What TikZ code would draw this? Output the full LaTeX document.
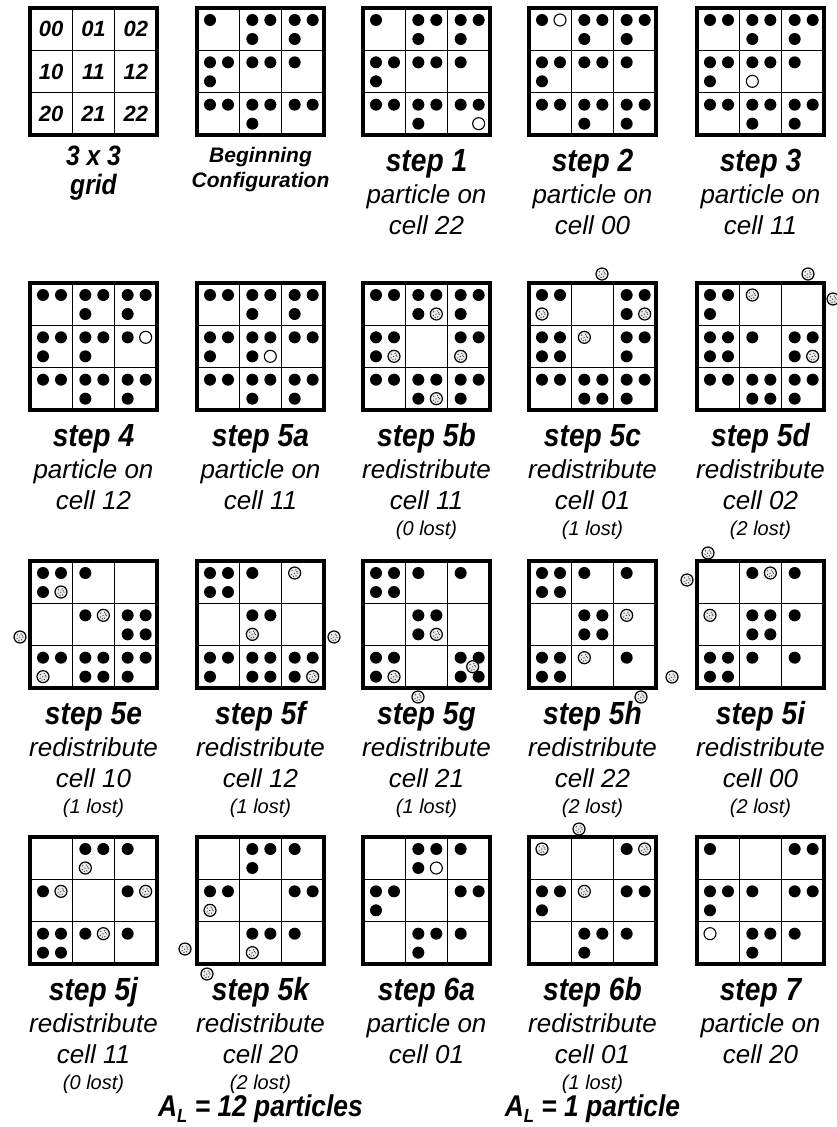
\documentclass[tikz,border=0pt]{standalone}
\usepackage{fontspec}
\setmainfont{Liberation Sans}
\newfontfamily\narrowsans{Liberation Sans}[FakeStretch=0.88]
\usetikzlibrary{calc}
\pgfdeclarelayer{bg}
\pgfsetlayers{bg,main}

% cell size and particle radius
\newcommand\cw{42.333}
\newcommand\pr{6pt}
% particle slots inside a cell: a=top left, b=top right, c=bottom left, d=bottom right, m=middle
\def\pqxa{13}\def\pqya{12}
\def\pqxb{31}\def\pqyb{12}
\def\pqxc{13}\def\pqyc{31}
\def\pqxd{31}\def\pqyd{31}
\def\pqxm{25}\def\pqym{21}

\tikzset{
  gridbox/.style={minimum width=127pt, minimum height=127pt, inner sep=0pt, outer sep=0pt, anchor=north west},
  frame/.style={line width=3.2pt},
  rule/.style={line width=1.3pt},
  hot/.style={fill=gray!40},
  blk/.style={fill=black},
  wht/.style={fill=white, draw=black, line width=1.1pt},
  spk/.style={fill=gray!15, draw=black, line width=1.2pt,
    path picture={\foreach \a/\b in {-2.6/-2.2,1.2/-3.0,3.0/0.2,-0.3/0.2,-2.9/1.6,1.4/2.8,-1.0/3.4,2.2/-1.2}
      {\fill[black!75] ($(path picture bounding box.center)+(\a,\b)$) circle[radius=0.7pt];}}},
  numlbl/.style={font=\fontsize{22}{22}\selectfont\bfseries\itshape, inner sep=0pt},
  steplbl/.style={font=\narrowsans\fontsize{32}{34}\selectfont\bfseries\itshape, anchor=base, inner sep=0pt},
  desclbl/.style={font=\fontsize{26}{28}\selectfont\itshape, anchor=base, inner sep=0pt},
  lostlbl/.style={font=\fontsize{20}{22}\selectfont\itshape, anchor=base, inner sep=0pt},
  headlbl/.style={font=\narrowsans\fontsize{28}{30}\selectfont\bfseries\itshape, anchor=base, inner sep=0pt},
  beglbl/.style={font=\fontsize{21}{23}\selectfont\bfseries\itshape, anchor=base, inner sep=0pt},
  sumlbl/.style={font=\narrowsans\fontsize{30}{32}\selectfont\bfseries\itshape, anchor=base, inner sep=0pt},
}

% one particle in slot #4 of cell (#2,#3) of grid #1, drawn with style #5
\newcommand\pp[5]{\path[#5] ($(#1.north west)+({#3*\cw+\csname pqx#4\endcsname},{#2*\cw+\csname pqy#4\endcsname})$) circle[radius=\pr];}
\newcommand\Bk[4]{\foreach \s in {#4}{\pp{#1}{#2}{#3}{\s}{blk}}}
\newcommand\Wt[4]{\pp{#1}{#2}{#3}{#4}{wht}}
\newcommand\Spk[4]{\pp{#1}{#2}{#3}{#4}{spk}}
% a critical (toppling) cell
\newcommand\Hot[3]{\begin{pgfonlayer}{bg}\fill[hot] ($(#1.north west)+({#3*\cw},{#2*\cw})$) rectangle ++(\cw,\cw);\end{pgfonlayer}}
% a particle pushed off the grid
\newcommand\Lost[3]{\path[spk] ($(#1.north west)+(#2,#3)$) circle[radius=\pr];}

% empty 3x3 grid with its top left corner at (#2,#3)
\newcommand\mkgrid[3]{%
  \node[gridbox] (#1) at (#2,#3) {};
  \draw[rule] ($(#1.north west)+(\cw,0)$) -- ($(#1.south west)+(\cw,0)$);
  \draw[rule] ($(#1.north west)+(2*\cw,0)$) -- ($(#1.south west)+(2*\cw,0)$);
  \draw[rule] ($(#1.north west)+(0,\cw)$) -- ($(#1.north east)+(0,\cw)$);
  \draw[rule] ($(#1.north west)+(0,2*\cw)$) -- ($(#1.north east)+(0,2*\cw)$);
  \draw[frame] (#1.north west) rectangle (#1.south east);}

% captions under a grid
\newcommand\gridcap[4]{%
  \node[steplbl] (#1s) at ($(#1.south)+(0,36)$) {#2};
  \node[desclbl] (#1d) at ($(#1.south)+(0,68)$) {#3};
  \node[desclbl] (#1c) at ($(#1.south)+(0,99)$) {#4};}
\newcommand\lostnote[2]{\node[lostlbl] (#1l) at ($(#1.south)+(0,125)$) {#2};}

\begin{document}
\begin{tikzpicture}[x=1pt,y=-1pt]
\useasboundingbox (0,0) rectangle (836,1127);
\fill[white] (0,0) rectangle (836,1127);

% ---------- row 1 ----------
\mkgrid{ga}{30}{8}
\foreach \r in {0,1,2}{\foreach \c in {0,1,2}{
  \node[numlbl] (ga\r\c) at ($(ga.north west)+({(\c+0.5)*\cw},{(\r+0.5)*\cw})$) {\r\c};}}
\node[headlbl] (gas) at ($(ga.south)+(0,30)$) {3 x 3};
\node[headlbl] (gad) at ($(ga.south)+(0,59)$) {grid};

\mkgrid{gb}{197}{8}
\Bk{gb}{0}{0}{a}\Bk{gb}{0}{1}{a,b,c}\Bk{gb}{0}{2}{a,b,c}
\Bk{gb}{1}{0}{a,b,c}\Bk{gb}{1}{1}{a,b}\Bk{gb}{1}{2}{a}
\Bk{gb}{2}{0}{a,b}\Bk{gb}{2}{1}{a,b,c}\Bk{gb}{2}{2}{a,b}
\node[beglbl] (gbs) at ($(gb.south)+(0,27)$) {Beginning};
\node[beglbl] (gbd) at ($(gb.south)+(0,52)$) {Configuration};

\mkgrid{g1}{363}{8}
\Bk{g1}{0}{0}{a}\Bk{g1}{0}{1}{a,b,c}\Bk{g1}{0}{2}{a,b,c}
\Bk{g1}{1}{0}{a,b,c}\Bk{g1}{1}{1}{a,b}\Bk{g1}{1}{2}{a}
\Bk{g1}{2}{0}{a,b}\Bk{g1}{2}{1}{a,b,c}\Bk{g1}{2}{2}{a,b}\Wt{g1}{2}{2}{d}
\gridcap{g1}{step 1}{particle on}{cell 22}

\mkgrid{g2}{529}{8}
\Bk{g2}{0}{0}{a}\Wt{g2}{0}{0}{b}\Bk{g2}{0}{1}{a,b,c}\Bk{g2}{0}{2}{a,b,c}
\Bk{g2}{1}{0}{a,b,c}\Bk{g2}{1}{1}{a,b}\Bk{g2}{1}{2}{a}
\Bk{g2}{2}{0}{a,b}\Bk{g2}{2}{1}{a,b,c}\Bk{g2}{2}{2}{a,b,c}
\gridcap{g2}{step 2}{particle on}{cell 00}

\mkgrid{g3}{697}{8}
\Bk{g3}{0}{0}{a,b}\Bk{g3}{0}{1}{a,b,c}\Bk{g3}{0}{2}{a,b,c}
\Bk{g3}{1}{0}{a,b,c}\Bk{g3}{1}{1}{a,b}\Wt{g3}{1}{1}{c}\Bk{g3}{1}{2}{a}
\Bk{g3}{2}{0}{a,b}\Bk{g3}{2}{1}{a,b,c}\Bk{g3}{2}{2}{a,b,c}
\gridcap{g3}{step 3}{particle on}{cell 11}

% ---------- row 2 ----------
\mkgrid{g4}{30}{283}
\Bk{g4}{0}{0}{a,b}\Bk{g4}{0}{1}{a,b,c}\Bk{g4}{0}{2}{a,b,c}
\Bk{g4}{1}{0}{a,b,c}\Bk{g4}{1}{1}{a,b,c}\Bk{g4}{1}{2}{a}\Wt{g4}{1}{2}{b}
\Bk{g4}{2}{0}{a,b}\Bk{g4}{2}{1}{a,b,c}\Bk{g4}{2}{2}{a,b,c}
\gridcap{g4}{step 4}{particle on}{cell 12}

\mkgrid{g5a}{197}{283}
\Hot{g5a}{1}{1}
\Bk{g5a}{0}{0}{a,b}\Bk{g5a}{0}{1}{a,b,c}\Bk{g5a}{0}{2}{a,b,c}
\Bk{g5a}{1}{0}{a,b,c}\Bk{g5a}{1}{1}{a,b,c}\Wt{g5a}{1}{1}{d}\Bk{g5a}{1}{2}{a,b}
\Bk{g5a}{2}{0}{a,b}\Bk{g5a}{2}{1}{a,b,c}\Bk{g5a}{2}{2}{a,b,c}
\gridcap{g5a}{step 5a}{particle on}{cell 11}

\mkgrid{g5b}{363}{283}
\Hot{g5b}{0}{1}\Hot{g5b}{1}{0}\Hot{g5b}{2}{1}
\Bk{g5b}{0}{0}{a,b}\Bk{g5b}{0}{1}{a,b,c}\Spk{g5b}{0}{1}{d}\Bk{g5b}{0}{2}{a,b,c}
\Bk{g5b}{1}{0}{a,b,c}\Spk{g5b}{1}{0}{d}\Bk{g5b}{1}{2}{a,b}\Spk{g5b}{1}{2}{c}
\Bk{g5b}{2}{0}{a,b}\Bk{g5b}{2}{1}{a,b,c}\Spk{g5b}{2}{1}{d}\Bk{g5b}{2}{2}{a,b,c}
\gridcap{g5b}{step 5b}{redistribute}{cell 11}\lostnote{g5b}{(0 lost)}

\mkgrid{g5c}{529}{283}
\Hot{g5c}{0}{2}\Hot{g5c}{1}{0}\Hot{g5c}{2}{1}
\Bk{g5c}{0}{0}{a,b}\Spk{g5c}{0}{0}{c}\Bk{g5c}{0}{2}{a,b,c}\Spk{g5c}{0}{2}{d}
\Bk{g5c}{1}{0}{a,b,c,d}\Spk{g5c}{1}{1}{a}\Bk{g5c}{1}{2}{a,b,c}
\Bk{g5c}{2}{0}{a,b}\Bk{g5c}{2}{1}{a,b,c,d}\Bk{g5c}{2}{2}{a,b,c}
\Lost{g5c}{73}{-9}
\gridcap{g5c}{step 5c}{redistribute}{cell 01}\lostnote{g5c}{(1 lost)}

\mkgrid{g5d}{697}{283}
\Hot{g5d}{1}{0}\Hot{g5d}{1}{2}\Hot{g5d}{2}{1}
\Bk{g5d}{0}{0}{a,b,c}\Spk{g5d}{0}{1}{a}
\Bk{g5d}{1}{0}{a,b,c,d}\Bk{g5d}{1}{1}{a}\Bk{g5d}{1}{2}{a,b,c}\Spk{g5d}{1}{2}{d}
\Bk{g5d}{2}{0}{a,b}\Bk{g5d}{2}{1}{a,b,c,d}\Bk{g5d}{2}{2}{a,b,c}
\Lost{g5d}{111}{-9}\Lost{g5d}{136}{16}
\gridcap{g5d}{step 5d}{redistribute}{cell 02}\lostnote{g5d}{(2 lost)}

% ---------- row 3 ----------
\mkgrid{g5e}{30}{561}
\Hot{g5e}{0}{0}\Hot{g5e}{1}{2}\Hot{g5e}{2}{1}
\Bk{g5e}{0}{0}{a,b,c}\Spk{g5e}{0}{0}{d}\Bk{g5e}{0}{1}{a}
\Bk{g5e}{1}{1}{a}\Spk{g5e}{1}{1}{b}\Bk{g5e}{1}{2}{a,b,c,d}
\Bk{g5e}{2}{0}{a,b}\Spk{g5e}{2}{0}{c}\Bk{g5e}{2}{1}{a,b,c,d}\Bk{g5e}{2}{2}{a,b,c}
\Lost{g5e}{-10}{76}
\gridcap{g5e}{step 5e}{redistribute}{cell 10}\lostnote{g5e}{(1 lost)}

\mkgrid{g5f}{197}{561}
\Hot{g5f}{0}{0}\Hot{g5f}{2}{1}\Hot{g5f}{2}{2}
\Bk{g5f}{0}{0}{a,b,c,d}\Bk{g5f}{0}{1}{a}\Spk{g5f}{0}{2}{a}
\Bk{g5f}{1}{1}{a,b}\Spk{g5f}{1}{1}{c}
\Bk{g5f}{2}{0}{a,b,c}\Bk{g5f}{2}{1}{a,b,c,d}\Bk{g5f}{2}{2}{a,b,c}\Spk{g5f}{2}{2}{d}
\Lost{g5f}{137}{76}
\gridcap{g5f}{step 5f}{redistribute}{cell 12}\lostnote{g5f}{(1 lost)}

\mkgrid{g5g}{363}{561}
\Hot{g5g}{0}{0}\Hot{g5g}{1}{1}\Hot{g5g}{2}{0}\Hot{g5g}{2}{2}
\Bk{g5g}{0}{0}{a,b,c,d}\Bk{g5g}{0}{1}{a}\Bk{g5g}{0}{2}{a}
\Bk{g5g}{1}{1}{a,b,c}\Spk{g5g}{1}{1}{d}
\Bk{g5g}{2}{0}{a,b,c}\Spk{g5g}{2}{0}{d}\Bk{g5g}{2}{2}{a,b,c,d}\Spk{g5g}{2}{2}{m}
\Lost{g5g}{55}{136}
\gridcap{g5g}{step 5g}{redistribute}{cell 21}\lostnote{g5g}{(1 lost)}

\mkgrid{g5h}{529}{561}
\Hot{g5h}{0}{0}\Hot{g5h}{1}{1}\Hot{g5h}{2}{0}
\Bk{g5h}{0}{0}{a,b,c,d}\Bk{g5h}{0}{1}{a}\Bk{g5h}{0}{2}{a}
\Bk{g5h}{1}{1}{a,b,c,d}\Spk{g5h}{1}{2}{a}
\Bk{g5h}{2}{0}{a,b,c,d}\Spk{g5h}{2}{1}{a}\Bk{g5h}{2}{2}{a}
\Lost{g5h}{112}{136}\Lost{g5h}{143}{116}
\gridcap{g5h}{step 5h}{redistribute}{cell 22}\lostnote{g5h}{(2 lost)}

\mkgrid{g5i}{697}{561}
\Hot{g5i}{1}{1}\Hot{g5i}{2}{0}
\Bk{g5i}{0}{1}{a}\Spk{g5i}{0}{1}{b}\Bk{g5i}{0}{2}{a}
\Spk{g5i}{1}{0}{a}\Bk{g5i}{1}{1}{a,b,c,d}\Bk{g5i}{1}{2}{a}
\Bk{g5i}{2}{0}{a,b,c,d}\Bk{g5i}{2}{1}{a}\Bk{g5i}{2}{2}{a}
\Lost{g5i}{11}{-8}\Lost{g5i}{-10}{19}
\gridcap{g5i}{step 5i}{redistribute}{cell 00}\lostnote{g5i}{(2 lost)}

% ---------- row 4 ----------
\mkgrid{g5j}{30}{837}
\Hot{g5j}{2}{0}
\Bk{g5j}{0}{1}{a,b}\Spk{g5j}{0}{1}{c}\Bk{g5j}{0}{2}{a}
\Bk{g5j}{1}{0}{a}\Spk{g5j}{1}{0}{b}\Bk{g5j}{1}{2}{a}\Spk{g5j}{1}{2}{b}
\Bk{g5j}{2}{0}{a,b,c,d}\Bk{g5j}{2}{1}{a}\Spk{g5j}{2}{1}{b}\Bk{g5j}{2}{2}{a}
\gridcap{g5j}{step 5j}{redistribute}{cell 11}\lostnote{g5j}{(0 lost)}

\mkgrid{g5k}{197}{837}
\Bk{g5k}{0}{1}{a,b,c}\Bk{g5k}{0}{2}{a}
\Bk{g5k}{1}{0}{a,b}\Spk{g5k}{1}{0}{c}\Bk{g5k}{1}{2}{a,b}
\Bk{g5k}{2}{1}{a,b}\Spk{g5k}{2}{1}{c}\Bk{g5k}{2}{2}{a}
\Lost{g5k}{-12}{112}\Lost{g5k}{10}{137}
\gridcap{g5k}{step 5k}{redistribute}{cell 20}\lostnote{g5k}{(2 lost)}

\mkgrid{g6a}{363}{837}
\Hot{g6a}{0}{1}
\Bk{g6a}{0}{1}{a,b,c}\Wt{g6a}{0}{1}{d}\Bk{g6a}{0}{2}{a}
\Bk{g6a}{1}{0}{a,b,c}\Bk{g6a}{1}{2}{a,b}
\Bk{g6a}{2}{1}{a,b,c}\Bk{g6a}{2}{2}{a}
\gridcap{g6a}{step 6a}{particle on}{cell 01}

\mkgrid{g6b}{529}{837}
\Spk{g6b}{0}{0}{a}\Bk{g6b}{0}{2}{a}\Spk{g6b}{0}{2}{b}
\Bk{g6b}{1}{0}{a,b,c}\Spk{g6b}{1}{1}{a}\Bk{g6b}{1}{2}{a,b}
\Bk{g6b}{2}{1}{a,b,c}\Bk{g6b}{2}{2}{a}
\Lost{g6b}{50}{-8}
\gridcap{g6b}{step 6b}{redistribute}{cell 01}\lostnote{g6b}{(1 lost)}

\mkgrid{g7}{697}{837}
\Bk{g7}{0}{0}{a}\Bk{g7}{0}{2}{a,b}
\Bk{g7}{1}{0}{a,b,c}\Bk{g7}{1}{1}{a}\Bk{g7}{1}{2}{a,b}
\Wt{g7}{2}{0}{a}\Bk{g7}{2}{1}{a,b,c}\Bk{g7}{2}{2}{a}
\gridcap{g7}{step 7}{particle on}{cell 20}

% ---------- totals ----------
\node[sumlbl] (sumA) at ($(g5k.south)+(0,152)$) {A\raisebox{-0.22em}{\fontsize{19}{19}\selectfont L} = 12 particles};
\node[sumlbl] (sumB) at ($(g6b.south)+(0,152)$) {A\raisebox{-0.22em}{\fontsize{19}{19}\selectfont L} = 1 particle};
\end{tikzpicture}
\end{document}
